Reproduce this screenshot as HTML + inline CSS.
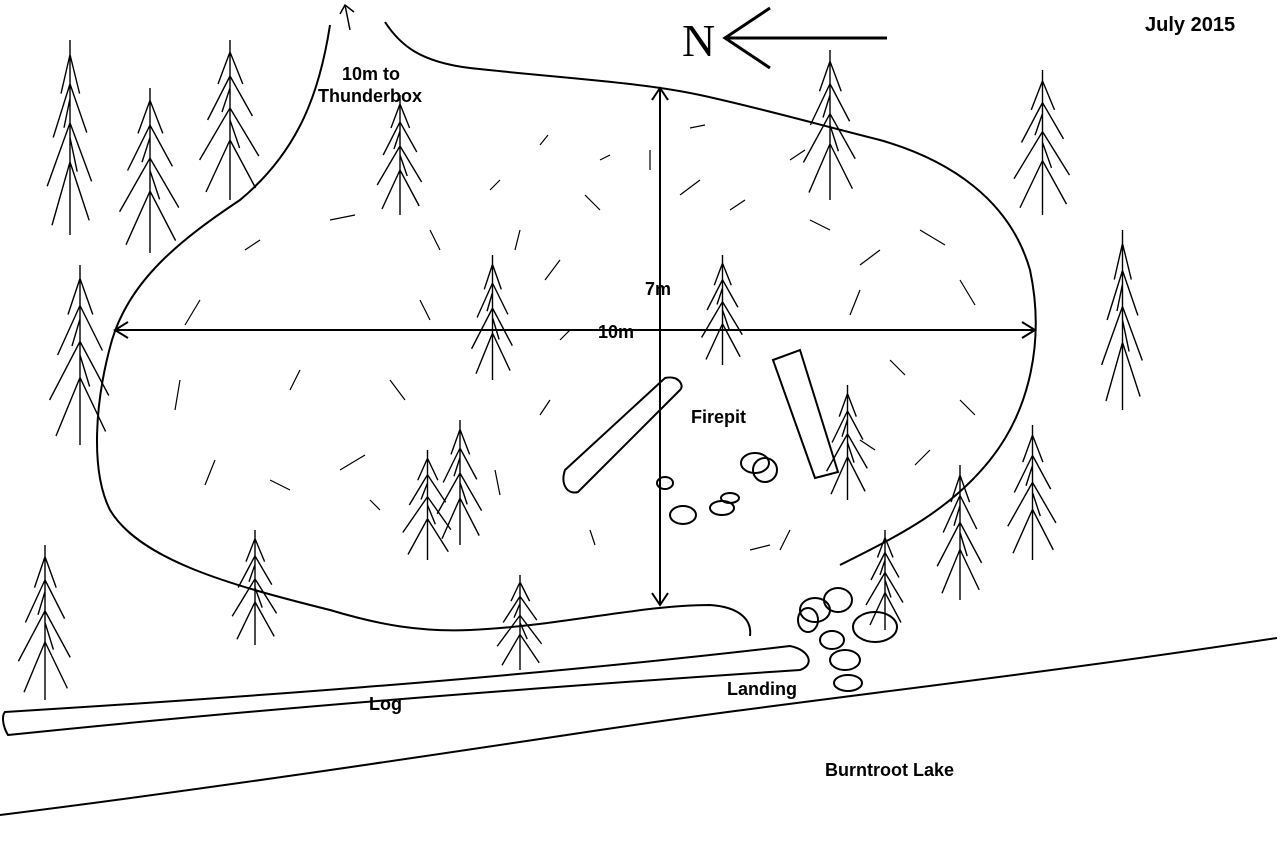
<!DOCTYPE html>
<html><head><meta charset="utf-8"><style>
html,body{margin:0;padding:0;background:#fff;}
svg{display:block}
text{font-family:"Liberation Sans",sans-serif;font-weight:bold;font-size:18px;fill:#000}
</style></head><body>
<svg width="1280" height="853" viewBox="0 0 1280 853" xmlns="http://www.w3.org/2000/svg">
<defs>
<symbol id="t" viewBox="0 0 100 200" preserveAspectRatio="none" overflow="visible">
<path vector-effect="non-scaling-stroke" d="M50 0 L50 200 M50 15 L35 55 M50 15 L66 55 M50 45 L22 100 M50 45 L78 95 M50 85 L12 150 M50 85 L86 145 M50 125 L20 190 M50 125 L82 185 M50 60 L40 90 M50 100 L62 135" fill="none" stroke="#000" stroke-width="1.4"/>
</symbol>
</defs>
<rect width="1280" height="853" fill="#fff"/>
<g fill="none" stroke="#000" stroke-width="2">
<path d="M330 25 C320 90 300 150 240 200 C180 240 130 280 112 340 C95 400 90 470 110 510 C140 560 230 585 330 610 C380 625 420 632 470 630 C560 626 640 605 710 605 C740 607 752 620 750 636"/>
<path d="M385 22 C400 45 420 62 470 68 C560 78 640 82 700 95 C760 108 820 125 880 140 C950 160 1010 200 1030 270 C1045 340 1030 410 990 460 C950 510 900 535 840 565"/>
<path d="M5 712 C200 700 500 680 790 646 C810 650 815 665 800 670 C500 690 250 710 8 735 C2 725 2 715 5 712 Z"/>
<path d="M0 815 C200 790 400 760 600 730 C800 700 1000 680 1277 638"/>
<path d="M565 470 L665 378 C678 375 685 385 680 390 L578 492 C568 495 560 485 565 470 Z"/>
<path d="M773 360 L800 350 L838 472 L815 478 Z"/>
<ellipse cx="683" cy="515" rx="13" ry="9"/><ellipse cx="665" cy="483" rx="8" ry="6"/><ellipse cx="722" cy="508" rx="12" ry="7"/><ellipse cx="730" cy="498" rx="9" ry="5"/><ellipse cx="755" cy="463" rx="14" ry="10"/><ellipse cx="765" cy="470" rx="12" ry="12"/>
<ellipse cx="815" cy="610" rx="15" ry="12"/><ellipse cx="838" cy="600" rx="14" ry="12"/><ellipse cx="875" cy="627" rx="22" ry="15"/><ellipse cx="832" cy="640" rx="12" ry="9"/><ellipse cx="845" cy="660" rx="15" ry="10"/><ellipse cx="848" cy="683" rx="14" ry="8"/><ellipse cx="808" cy="620" rx="10" ry="12"/>
<path d="M660 90 L660 605 M652 100 L660 88 L668 100 M652 593 L660 605 L668 593" />
<path d="M115 330 L1035 330 M128 322 L115 330 L128 338 M1022 322 L1035 330 L1022 338"/>
<path d="M725 38 L887 38 M770 8 L725 38 L770 68" stroke-width="3"/>
<path d="M350 30 L345 5 M340 14 L345 5 L354 12" stroke-width="1.5"/>
</g>
<g fill="none" stroke="#000" stroke-width="1.2">
<path d="M540 145 l8 -10 M600 160 l10 -5 M690 128 l15 -3 M650 150 l0 20 M500 180 l-10 10 M520 230 l-5 20 M430 230 l10 20 M330 220 l25 -5 M260 240 l-15 10 M200 300 l-15 25 M180 380 l-5 30 M215 460 l-10 25 M270 480 l20 10 M340 470 l25 -15 M300 370 l-10 20 M390 380 l15 20 M420 300 l10 20 M560 260 l-15 20 M570 330 l-10 10 M745 200 l-15 10 M790 160 l15 -10 M830 230 l-20 -10 M880 250 l-20 15 M920 230 l25 15 M960 280 l15 25 M860 290 l-10 25 M890 360 l15 15 M960 400 l15 15 M930 450 l-15 15 M860 440 l15 10 M550 400 l-10 15 M600 210 l-15 -15 M700 180 l-20 15 M495 470 l5 25 M370 500 l10 10 M590 530 l5 15 M790 530 l-10 20 M750 550 l20 -5"/>
</g>
<use href="#t" x="40" y="40" width="60" height="195"/>
<use href="#t" x="110" y="88" width="80" height="165"/>
<use href="#t" x="190" y="40" width="80" height="160"/>
<use href="#t" x="370" y="95" width="60" height="120"/>
<use href="#t" x="40" y="265" width="80" height="180"/>
<use href="#t" x="10" y="545" width="70" height="155"/>
<use href="#t" x="225" y="530" width="60" height="115"/>
<use href="#t" x="430" y="420" width="60" height="125"/>
<use href="#t" x="395" y="450" width="65" height="110"/>
<use href="#t" x="490" y="575" width="60" height="95"/>
<use href="#t" x="465" y="255" width="55" height="125"/>
<use href="#t" x="695" y="255" width="55" height="110"/>
<use href="#t" x="820" y="385" width="55" height="115"/>
<use href="#t" x="930" y="465" width="60" height="135"/>
<use href="#t" x="1000" y="425" width="65" height="135"/>
<use href="#t" x="795" y="50" width="70" height="150"/>
<use href="#t" x="1005" y="70" width="75" height="145"/>
<use href="#t" x="1095" y="230" width="55" height="180"/>
<use href="#t" x="860" y="530" width="50" height="100"/>
<text x="342" y="80">10m to</text>
<text x="318" y="102">Thunderbox</text>
<text x="645" y="295">7m</text>
<text x="598" y="338">10m</text>
<text x="691" y="423">Firepit</text>
<text x="369" y="710">Log</text>
<text x="727" y="695">Landing</text>
<text x="825" y="776">Burntroot Lake</text>
<text x="1145" y="31" style="font-size:20px">July 2015</text>
<text x="682" y="56" style="font-family:'Liberation Serif',serif;font-weight:normal;font-size:46px">N</text>
</svg>
</body></html>
